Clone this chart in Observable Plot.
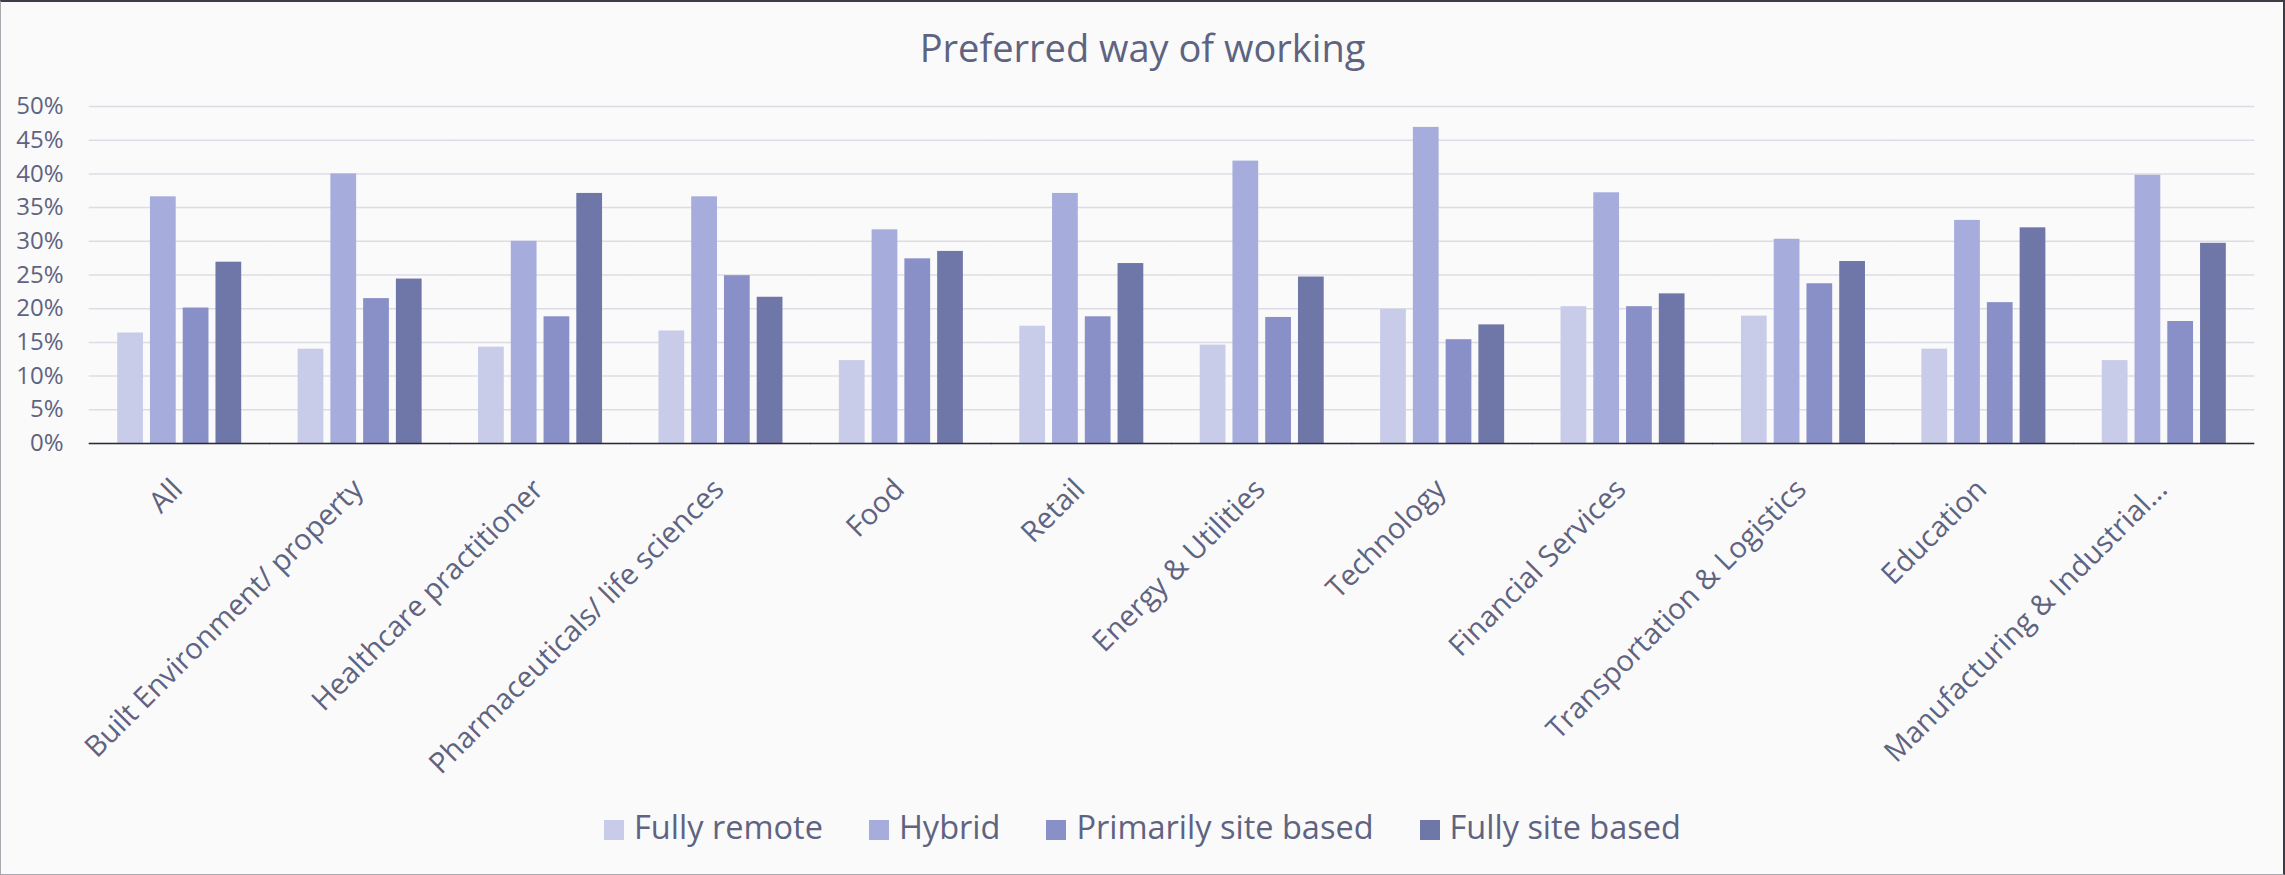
<!DOCTYPE html>
<html>
<head>
<meta charset="utf-8">
<script src="https://cdn.jsdelivr.net/npm/d3@7"></script>
<script src="https://cdn.jsdelivr.net/npm/@observablehq/plot@0.6"></script>
<style>
  html, body { margin: 0; padding: 0; background: #fafafa; }
  #wrap { position: relative; width: 2285px; height: 875px; background: #fafafa; overflow: hidden; font-family: "Open Sans", sans-serif; color: #5e6381; }
  #frame { position: absolute; left: 0; top: 0; width: 2285px; height: 875px; box-sizing: border-box;
    border-top: 2px solid #3c3c46; border-right: 2px solid #3c3c46; border-left: 1px solid #a8a8ae; border-bottom: 1px solid #a8a8ae; pointer-events: none; }
  #title { position: absolute; left: 0; width: 2285px; top: 28px; text-align: center; font-size: 38px; line-height: 38px; white-space: nowrap; }
  #chart { position: absolute; left: 0; top: 0; }
  #legend { position: absolute; left: 0; width: 2285px; top: 811px; display: flex; justify-content: center; align-items: flex-start; font-size: 32.5px; line-height: 32px; white-space: nowrap; }
  .item { display: flex; align-items: flex-start; margin: 0 23px; }
  .sw { width: 20px; height: 20px; margin-top: 9px; margin-right: 10px; }
</style>
</head>
<body>
<div id="wrap">
  <div id="chart"></div>
  <div id="title"></div>
  <div id="legend"></div>
  <div id="frame"></div>
</div>
<script>
const title = "Preferred way of working";
const categories = ["All", "Built Environment/ property", "Healthcare practitioner", "Pharmaceuticals/ life sciences", "Food", "Retail", "Energy & Utilities", "Technology", "Financial Services", "Transportation & Logistics", "Education", "Manufacturing & Industrial..."];
const series = ["Fully remote", "Hybrid", "Primarily site based", "Fully site based"];
const colors = ["#c9cce9", "#a6acdb", "#8890c7", "#6f77a8"];
const fullyRemote   = [16.4, 14.0, 14.3, 16.7, 12.3, 17.4, 14.6, 19.9, 20.3, 18.9, 14.0, 12.3];
const hybrid        = [36.6, 40.0, 30.0, 36.6, 31.7, 37.1, 41.9, 46.9, 37.2, 30.3, 33.1, 39.8];
const primarilySite = [20.1, 21.5, 18.8, 24.9, 27.4, 18.8, 18.7, 15.4, 20.3, 23.7, 20.9, 18.1];
const fullySite     = [26.9, 24.4, 37.1, 21.7, 28.5, 26.7, 24.7, 17.6, 22.2, 27.0, 32.0, 29.7];
const yTicks = [0, 5, 10, 15, 20, 25, 30, 35, 40, 45, 50];

const seriesValues = [fullyRemote, hybrid, primarilySite, fullySite];
const data = [];
categories.forEach((c, i) => {
  series.forEach((s, j) => data.push({category: c, series: s, value: seriesValues[j][i]}));
});

document.getElementById("title").textContent = title;

const legend = document.getElementById("legend");
series.forEach((s, j) => {
  const it = document.createElement("div");
  it.className = "item";
  const sw = document.createElement("div");
  sw.className = "sw";
  sw.style.background = colors[j];
  const tx = document.createElement("span");
  tx.textContent = s;
  it.appendChild(sw); it.appendChild(tx);
  legend.appendChild(it);
});

const textColor = "#5e6381";
const plotW = 2285, mL = 89, mR = 31;
const fxPadInner = 0.3126, fxPadOuter = fxPadInner / 2;
const step = (plotW - mL - mR) / categories.length;
const half = step * fxPadOuter + 0.3; // extend each facet's rules into the gaps so they join

const chart = Plot.plot({
  width: plotW,
  height: 875,
  marginTop: 106,
  marginBottom: 432,
  marginLeft: mL,
  marginRight: mR,
  style: {background: "transparent", color: textColor, fontFamily: "Open Sans", fontSize: "24px", overflow: "visible"},
  fx: {domain: categories, paddingInner: fxPadInner, paddingOuter: fxPadOuter, round: false, label: null},
  x: {domain: series, paddingInner: 0.214, paddingOuter: 0, round: false, axis: null},
  y: {domain: [0, 50], label: null},
  color: {domain: series, range: colors},
  marks: [
    Plot.ruleY(yTicks, {y: d => d, stroke: "#dcdce5", strokeWidth: 1.5, insetLeft: -half, insetRight: -half}),
    Plot.axisY({ticks: yTicks, tickSize: 0, tickPadding: 26, dx: -step * fxPadOuter, tickFormat: d => d + "%", fontSize: 24, fill: textColor, label: null}),
    Plot.barY(data, {fx: "category", x: "series", y: "value", fill: "series"}),
    Plot.ruleY([0], {stroke: "#2b2b36", strokeWidth: 1.6, insetLeft: -half, insetRight: -half}),
    Plot.axisFx({anchor: "bottom", tickRotate: -45, tickSize: 0, tickPadding: 41, dx: -2, lineAnchor: "middle", fontSize: 29, fill: textColor, label: null})
  ]
});
document.getElementById("chart").appendChild(chart);
</script>
</body>
</html>
